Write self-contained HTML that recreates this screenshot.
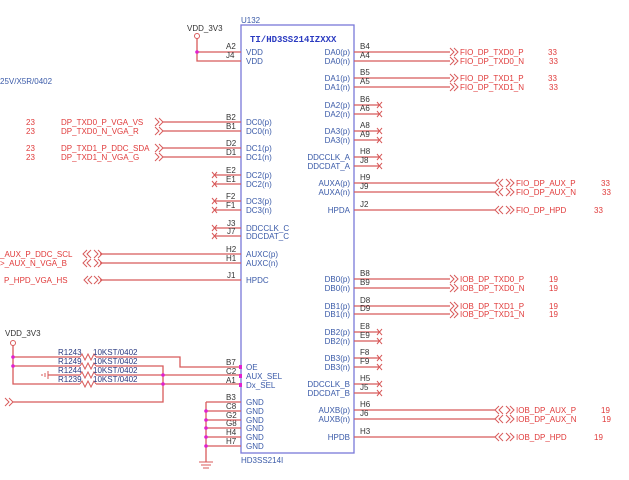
<!DOCTYPE html>
<html><head><meta charset="utf-8"><style>
html,body{margin:0;padding:0;background:#fff;}
svg{display:block}
text{font-family:"Liberation Sans",sans-serif;font-size:8px}
.r{fill:#e03a3a}
.b{fill:#3a5aa8}
.k{fill:#333}
.w{stroke:#d85a5a;stroke-width:1.3;fill:none}
.x{stroke:#d85a5a;stroke-width:1;fill:none}
.d{fill:#e020d0}
</style></head><body>
<svg width="629" height="480" viewBox="0 0 629 480" xmlns="http://www.w3.org/2000/svg">
<!-- chip box -->
<rect x="241" y="25" width="113" height="428" fill="none" stroke="#7a78d8" stroke-width="1.3"/>
<text x="241" y="23" class="b">U132</text>
<text x="250" y="42" style="font-family:'Liberation Mono',monospace;font-weight:bold;font-size:9px;fill:#2a3ac0">TI/HD3SS214IZXXX</text>
<text x="241" y="463" class="b">HD3SS214I</text>
<text x="0" y="84" class="b">25V/X5R/0402</text>

<!-- VDD top -->
<text x="187" y="31" class="k">VDD_3V3</text>
<circle cx="197" cy="36" r="2.5" fill="none" stroke="#d85a5a"/>
<path class="w" d="M197 38.5V61H241M197 52H241"/>
<circle cx="197" cy="52" r="1.8" class="d"/>

<g class="k">
<text x="226" y="49">A2</text><text x="226" y="58">J4</text>
</g>
<g class="b">
<text x="246" y="55">VDD</text><text x="246" y="64">VDD</text>
</g>

<!-- Left DC pins with arrows -->
<path class="w" d="M163 122H241M163 131H241M163 148H241M163 157H241"/>
<path class="x" d="M155 118l4 4-4 4M159 118l4 4-4 4M155 127l4 4-4 4M159 127l4 4-4 4M155 144l4 4-4 4M159 144l4 4-4 4M155 153l4 4-4 4M159 153l4 4-4 4"/>
<g class="r">
<text x="26" y="125">23</text><text x="61" y="125">DP_TXD0_P_VGA_VS</text>
<text x="26" y="134">23</text><text x="61" y="134">DP_TXD0_N_VGA_R</text>
<text x="26" y="151">23</text><text x="61" y="151">DP_TXD1_P_DDC_SDA</text>
<text x="26" y="160">23</text><text x="61" y="160">DP_TXD1_N_VGA_G</text>
<text x="0" y="257">_AUX_P_DDC_SCL</text>
<text x="0" y="266">&gt;_AUX_N_VGA_B</text>
<text x="4" y="283">P_HPD_VGA_HS</text>
</g>
<!-- left NC pins -->
<path class="w" d="M215 175H241M215 184H241M215 201H241M215 210H241M215 228H241M215 236H241"/>
<path class="x" d="M212 172l5 6M217 172l-5 6M212 181l5 6M217 181l-5 6M212 198l5 6M217 198l-5 6M212 207l5 6M217 207l-5 6M212 225l5 6M217 225l-5 6M212 233l5 6M217 233l-5 6"/>
<!-- AUXC / HPDC -->
<path class="w" d="M100 254H241M100 263H241M100 280H241"/>
<path class="x" d="M87 250l-4 4 4 4M91 250l-4 4 4 4M94 250l4 4-4 4M98 250l4 4-4 4M87 259l-4 4 4 4M91 259l-4 4 4 4M94 259l4 4-4 4M98 259l4 4-4 4M88 276l-4 4 4 4M92 276l-4 4 4 4M94 276l4 4-4 4M98 276l4 4-4 4"/>
<g class="k">
<text x="226" y="120">B2</text><text x="226" y="129">B1</text>
<text x="226" y="146">D2</text><text x="226" y="155">D1</text>
<text x="226" y="173">E2</text><text x="226" y="182">E1</text>
<text x="226" y="199">F2</text><text x="226" y="208">F1</text>
<text x="227" y="226">J3</text><text x="227" y="234">J7</text>
<text x="226" y="252">H2</text><text x="226" y="261">H1</text>
<text x="227" y="278">J1</text>
<text x="226" y="365">B7</text><text x="226" y="374">C2</text><text x="226" y="383">A1</text>
<text x="226" y="400">B3</text><text x="226" y="409">C8</text><text x="226" y="418">G2</text>
<text x="226" y="426">G8</text><text x="226" y="435">H4</text><text x="226" y="444">H7</text>
</g>
<g class="b">
<text x="246" y="125">DC0(p)</text><text x="246" y="134">DC0(n)</text>
<text x="246" y="151">DC1(p)</text><text x="246" y="160">DC1(n)</text>
<text x="246" y="178">DC2(p)</text><text x="246" y="187">DC2(n)</text>
<text x="246" y="204">DC3(p)</text><text x="246" y="213">DC3(n)</text>
<text x="246" y="231">DDCCLK_C</text><text x="246" y="239">DDCDAT_C</text>
<text x="246" y="257">AUXC(p)</text><text x="246" y="266">AUXC(n)</text>
<text x="246" y="283">HPDC</text>
<text x="246" y="370">OE</text><text x="246" y="379">AUX_SEL</text><text x="246" y="388">Dx_SEL</text>
<text x="246" y="405">GND</text><text x="246" y="414">GND</text><text x="246" y="423">GND</text>
<text x="246" y="431">GND</text><text x="246" y="440">GND</text><text x="246" y="449">GND</text>
</g>

<!-- bottom-left resistor network -->
<text x="5" y="336" class="k">VDD_3V3</text>
<circle cx="13" cy="343" r="2.5" fill="none" stroke="#d85a5a"/>
<path class="w" d="M13 345.5V384H80M13 357H80M13 366H80M48 375H80"/>
<path class="x" d="M48 371V379M45 373V377M42 374V376"/>
<path class="w" d="M96 357H180V367H241M96 366H163V402H13M96 375H241M96 384H241"/>
<path class="x" d="M80 357l2-3 3 6 3-6 3 6 3-6 2 3M80 366l2-3 3 6 3-6 3 6 3-6 2 3M80 375l2-3 3 6 3-6 3 6 3-6 2 3M80 384l2-3 3 6 3-6 3 6 3-6 2 3"/>
<path class="x" d="M5 398l4 4-4 4M9 398l4 4-4 4"/>
<circle cx="13" cy="357" r="1.8" class="d"/><circle cx="13" cy="366" r="1.8" class="d"/>
<circle cx="163" cy="375" r="1.8" class="d"/><circle cx="163" cy="384" r="1.8" class="d"/>
<rect x="239" y="365" width="3" height="4" class="d"/><rect x="239" y="374" width="3" height="4" class="d"/><rect x="239" y="383" width="3" height="4" class="d"/>
<g style="fill:#2a3a80;font-size:7.5px">
<text x="58" y="355">R1243</text><text x="58" y="364">R1249</text><text x="58" y="373">R1244</text><text x="58" y="382">R1239</text>
<text x="93" y="355">10KST/0402</text><text x="93" y="364">10KST/0402</text><text x="93" y="373">10KST/0402</text><text x="93" y="382">10KST/0402</text>
</g>

<!-- GND -->
<path class="w" d="M206 402V462M206 402H241M206 411H241M206 420H241M206 428H241M206 437H241M206 446H241"/>
<path class="x" d="M199 462H213M201 465H211M203 468H209"/>
<circle cx="206" cy="411" r="1.8" class="d"/><circle cx="206" cy="420" r="1.8" class="d"/><circle cx="206" cy="428" r="1.8" class="d"/><circle cx="206" cy="437" r="1.8" class="d"/><circle cx="206" cy="446" r="1.8" class="d"/>

<!-- Right A side -->
<path class="w" d="M354 52H450M354 61H450M354 78H450M354 87H450"/>
<path class="x" d="M450 48l4 4-4 4M454 48l4 4-4 4M450 57l4 4-4 4M454 57l4 4-4 4M450 74l4 4-4 4M454 74l4 4-4 4M450 83l4 4-4 4M454 83l4 4-4 4"/>
<path class="w" d="M354 105H380M354 114H380M354 131H380M354 140H380M354 157H380M354 166H380"/>
<path class="x" d="M377 102l5 6M382 102l-5 6M377 111l5 6M382 111l-5 6M377 128l5 6M382 128l-5 6M377 137l5 6M382 137l-5 6M377 154l5 6M382 154l-5 6M377 163l5 6M382 163l-5 6"/>
<path class="w" d="M354 183H495M354 192H495M354 210H495"/>
<path class="x" d="M499 179l-4 4 4 4M503 179l-4 4 4 4M506 179l4 4-4 4M510 179l4 4-4 4M499 188l-4 4 4 4M503 188l-4 4 4 4M506 188l4 4-4 4M510 188l4 4-4 4M499 206l-4 4 4 4M503 206l-4 4 4 4M506 206l4 4-4 4M510 206l4 4-4 4"/>
<g class="r">
<text x="460" y="55">FIO_DP_TXD0_P</text><text x="548" y="55">33</text>
<text x="460" y="64">FIO_DP_TXD0_N</text><text x="549" y="64">33</text>
<text x="460" y="81">FIO_DP_TXD1_P</text><text x="548" y="81">33</text>
<text x="460" y="90">FIO_DP_TXD1_N</text><text x="549" y="90">33</text>
<text x="516" y="186">FIO_DP_AUX_P</text><text x="601" y="186">33</text>
<text x="516" y="195">FIO_DP_AUX_N</text><text x="602" y="195">33</text>
<text x="516" y="213">FIO_DP_HPD</text><text x="594" y="213">33</text>
</g>
<!-- Right B side -->
<path class="w" d="M354 279H450M354 288H450M354 306H450M354 314H450"/>
<path class="x" d="M450 275l4 4-4 4M454 275l4 4-4 4M450 284l4 4-4 4M454 284l4 4-4 4M450 302l4 4-4 4M454 302l4 4-4 4M450 310l4 4-4 4M454 310l4 4-4 4"/>
<path class="w" d="M354 332H380M354 341H380M354 358H380M354 367H380M354 384H380M354 393H380"/>
<path class="x" d="M377 329l5 6M382 329l-5 6M377 338l5 6M382 338l-5 6M377 355l5 6M382 355l-5 6M377 364l5 6M382 364l-5 6M377 381l5 6M382 381l-5 6M377 390l5 6M382 390l-5 6"/>
<path class="w" d="M354 410H495M354 419H495M354 437H495"/>
<path class="x" d="M499 406l-4 4 4 4M503 406l-4 4 4 4M506 406l4 4-4 4M510 406l4 4-4 4M499 415l-4 4 4 4M503 415l-4 4 4 4M506 415l4 4-4 4M510 415l4 4-4 4M499 433l-4 4 4 4M503 433l-4 4 4 4M506 433l4 4-4 4M510 433l4 4-4 4"/>
<g class="r">
<text x="460" y="282">IOB_DP_TXD0_P</text><text x="549" y="282">19</text>
<text x="460" y="291">IOB_DP_TXD0_N</text><text x="549" y="291">19</text>
<text x="460" y="309">IOB_DP_TXD1_P</text><text x="549" y="309">19</text>
<text x="460" y="317">IOB_DP_TXD1_N</text><text x="549" y="317">19</text>
<text x="516" y="413">IOB_DP_AUX_P</text><text x="601" y="413">19</text>
<text x="516" y="422">IOB_DP_AUX_N</text><text x="602" y="422">19</text>
<text x="516" y="440">IOB_DP_HPD</text><text x="594" y="440">19</text>
</g>
<g class="k">
<text x="360" y="49">B4</text><text x="360" y="58">A4</text>
<text x="360" y="75">B5</text><text x="360" y="84">A5</text>
<text x="360" y="102">B6</text><text x="360" y="111">A6</text>
<text x="360" y="128">A8</text><text x="360" y="137">A9</text>
<text x="360" y="154">H8</text><text x="360" y="163">J8</text>
<text x="360" y="180">H9</text><text x="360" y="189">J9</text>
<text x="360" y="207">J2</text>
<text x="360" y="276">B8</text><text x="360" y="285">B9</text>
<text x="360" y="303">D8</text><text x="360" y="311">D9</text>
<text x="360" y="329">E8</text><text x="360" y="338">E9</text>
<text x="360" y="355">F8</text><text x="360" y="364">F9</text>
<text x="360" y="381">H5</text><text x="360" y="390">J5</text>
<text x="360" y="407">H6</text><text x="360" y="416">J6</text>
<text x="360" y="434">H3</text>
</g>
<g class="b" text-anchor="end">
<text x="350" y="55">DA0(p)</text><text x="350" y="64">DA0(n)</text>
<text x="350" y="81">DA1(p)</text><text x="350" y="90">DA1(n)</text>
<text x="350" y="108">DA2(p)</text><text x="350" y="117">DA2(n)</text>
<text x="350" y="134">DA3(p)</text><text x="350" y="143">DA3(n)</text>
<text x="350" y="160">DDCCLK_A</text><text x="350" y="169">DDCDAT_A</text>
<text x="350" y="186">AUXA(p)</text><text x="350" y="195">AUXA(n)</text>
<text x="350" y="213">HPDA</text>
<text x="350" y="282">DB0(p)</text><text x="350" y="291">DB0(n)</text>
<text x="350" y="309">DB1(p)</text><text x="350" y="317">DB1(n)</text>
<text x="350" y="335">DB2(p)</text><text x="350" y="344">DB2(n)</text>
<text x="350" y="361">DB3(p)</text><text x="350" y="370">DB3(n)</text>
<text x="350" y="387">DDCCLK_B</text><text x="350" y="396">DDCDAT_B</text>
<text x="350" y="413">AUXB(p)</text><text x="350" y="422">AUXB(n)</text>
<text x="350" y="440">HPDB</text>
</g>
</svg>
</body></html>
